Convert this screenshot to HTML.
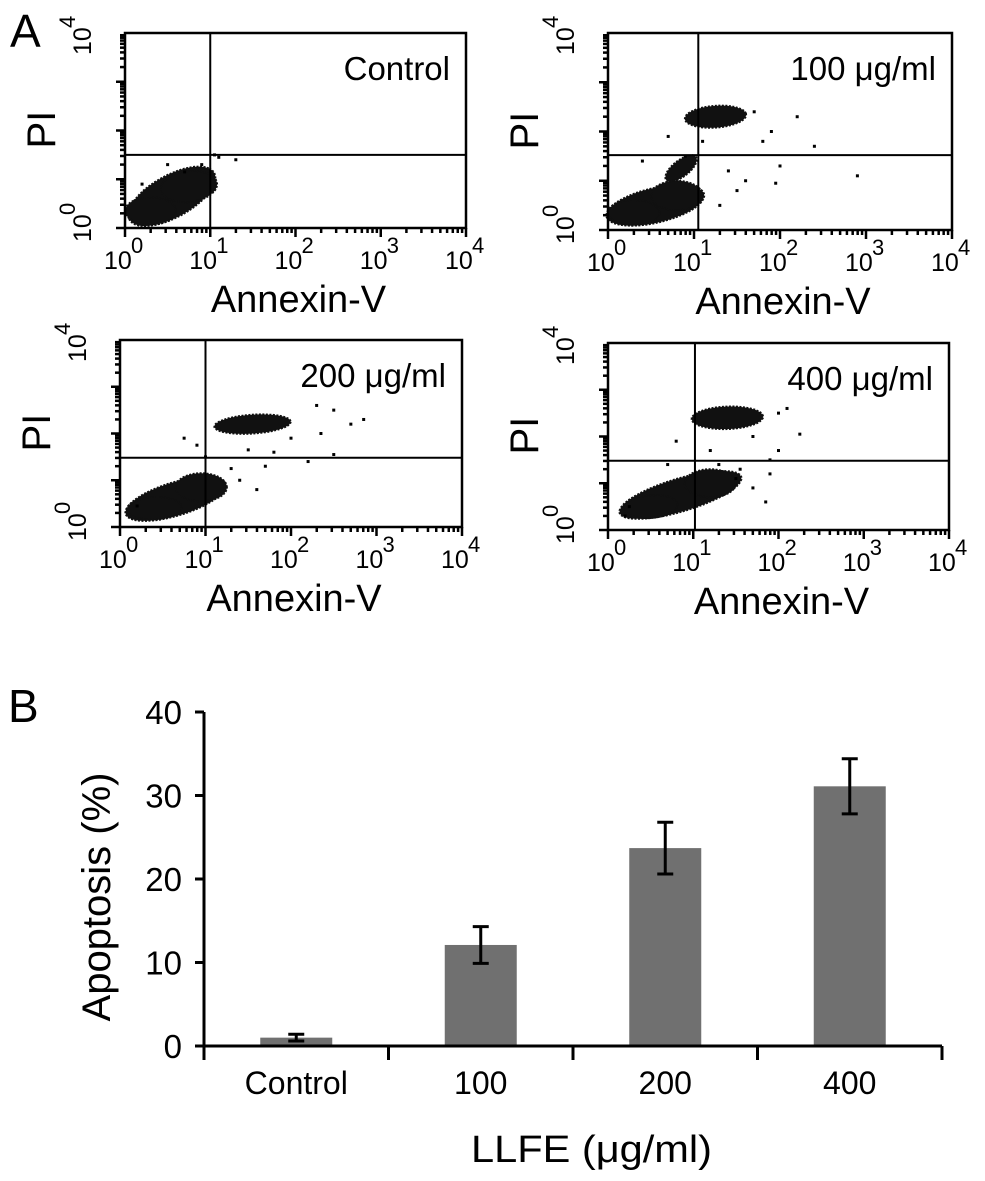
<!DOCTYPE html>
<html><head><meta charset="utf-8"><style>
html,body{margin:0;padding:0;background:#fff;}
svg{display:block;}
text{font-family:"Liberation Sans",sans-serif;fill:#000;}
</style></head><body>
<svg id="fig" width="985" height="1181" viewBox="0 0 985 1181" xmlns="http://www.w3.org/2000/svg">
<text x="10" y="47" font-size="46">A</text>
<text x="8" y="722" font-size="46">B</text>
<g id="flow"></g>
<g id="bars"></g>
</svg>
<script>
// ---------- Flow cytometry data (log10 units) ----------
const panelTitles = ["Control", "100 μg/ml", "200 μg/ml", "400 μg/ml"];
const gateX = [1.0, 1.05, 1.0, 1.02];
const gateY = [1.5, 1.52, 1.48, 1.48];
// clusters: [cx, cy, halfMajor, halfMinor, angleDeg]
const clustersControl = [[0.55,0.65,0.72,0.34,53],[0.3,0.35,0.3,0.28,0],[0.75,0.85,0.35,0.3,40]];
const clusters100 = [[0.55,0.5,0.62,0.33,28],[0.3,0.35,0.3,0.26,0],[1.25,2.3,0.36,0.22,10],[0.85,1.25,0.3,0.12,60],[0.8,0.7,0.3,0.3,0]];
const clusters200 = [[0.65,0.6,0.68,0.32,35],[0.4,0.4,0.32,0.24,10],[1.55,2.2,0.45,0.2,8],[0.95,0.85,0.3,0.3,0]];
const clusters400 = [[0.85,0.75,0.82,0.32,32],[0.5,0.5,0.32,0.24,15],[1.4,2.4,0.42,0.24,5],[1.2,1.0,0.3,0.3,0]];
const dotsControl = [[1.3,1.4],[1.05,1.5],[0.7,1.15],[0.9,1.3],[0.2,0.9],[1.1,1.45],[0.5,1.3]];
const dots100 = [[1.8,1.8],[2.2,2.3],[2.0,1.3],[2.4,1.7],[1.6,1.0],[1.95,0.95],[1.3,0.5],[0.4,1.4],[0.9,1.5],[0.7,1.9],[1.7,2.4],[1.9,2.0],[1.1,1.8],[1.5,0.8],[1.4,1.2],[2.9,1.1]];
const dots200 = [[2.3,2.6],[2.5,2.5],[2.85,2.3],[2.7,2.2],[2.35,2.0],[2.5,1.55],[2.2,1.4],[1.8,1.6],[1.5,1.65],[1.7,1.3],[1.4,1.0],[0.9,1.75],[0.75,1.9],[1.0,1.5],[2.0,1.9],[0.2,0.45],[1.6,0.8],[1.3,1.25]];
const dots400 = [[2.0,2.5],[2.25,2.05],[2.1,2.6],[1.9,1.5],[1.5,1.1],[1.7,0.9],[1.85,0.6],[2.0,1.7],[0.8,1.9],[0.7,1.4],[0.2,0.3],[0.25,0.5],[1.3,1.4],[1.7,2.0],[1.2,1.7],[1.9,1.2],[1.55,1.3]];
const panelClusters = [clustersControl, clusters100, clusters200, clusters400];
const panelDots = [dotsControl, dots100, dots200, dots400];
const boxes = [[125,33,466,228],[608,33,952,230],[120,340,462,527],[608,343,949,530]];
const decadeLabels = ["0","1","2","3","4"];

const NS = "http://www.w3.org/2000/svg";
function mk(tag, attrs, parent){const e=document.createElementNS(NS,tag);for(const k in attrs)e.setAttribute(k,attrs[k]);parent.appendChild(e);return e;}

const flow = document.getElementById('flow');
boxes.forEach((b,pi)=>{
  const [x0,y0,x1,y1]=b;
  const sx=v=>x0+(x1-x0)*v/4, sy=v=>y1-(y1-y0)*v/4;
  const g=mk('g',{},flow);
  
  
  panelClusters[pi].forEach(c=>{
    const [cx,cy,a,bb,ang]=c; const r=ang*Math.PI/180; let pts=[];
    for(let t=0;t<40;t++){const th=t/40*2*Math.PI;const u=a*Math.cos(th),w=bb*Math.sin(th);
      pts.push(sx(cx+u*Math.cos(r)-w*Math.sin(r)).toFixed(1)+','+sy(cy+u*Math.sin(r)+w*Math.cos(r)).toFixed(1));}
    const p=mk('polygon',{points:pts.join(' '),fill:'#111',stroke:'#111','stroke-width':'2','stroke-dasharray':'2 1.5'},g);
    
    
  });
  panelDots[pi].forEach(d=>{
    const r=mk('rect',{x:sx(d[0])-1.5,y:sy(d[1])-1.5,width:3,height:3,fill:'#000'},g);
    
    
  });
  const bx=mk('rect',{x:x0,y:y0,width:x1-x0,height:y1-y0,fill:'none',stroke:'#000','stroke-width':'2.5'},g);
  
  
  const gv=mk('line',{x1:sx(gateX[pi]),x2:sx(gateX[pi]),y1:y0,y2:y1,stroke:'#000','stroke-width':'2'},g);
  
  
  const gh=mk('line',{x1:x0,x2:x1,y1:sy(gateY[pi]),y2:sy(gateY[pi]),stroke:'#000','stroke-width':'2'},g);
  
  
  for(let d=0;d<4;d++)for(let m=1;m<10;m++){const v=d+Math.log10(m);const L=m==1?9:5;
    mk('line',{x1:sx(v),x2:sx(v),y1:y1,y2:y1+L,stroke:'#000','stroke-width':'2.5'},g);
    mk('line',{x1:x0,x2:x0-L,y1:sy(v),y2:sy(v),stroke:'#000','stroke-width':'2.5'},g);}
  mk('line',{x1:sx(4),x2:sx(4),y1:y1,y2:y1+9,stroke:'#000','stroke-width':'2.5'},g);
  decadeLabels.forEach((s,i)=>{
    const t=mk('text',{x:sx(i)-21,y:y1+41,'font-size':'25'},g);
    
    
    t.textContent='10';
    const e=mk('text',{x:sx(i)+6,y:y1+25,'font-size':'22'},g);
    e.textContent=s;
  });
  [[0,'0'],[4,'4']].forEach(([v,s])=>{
    const yy=v==0?y1+14:y0+22;
    const t=mk('text',{transform:`translate(${x0-34},${yy}) rotate(-90)`,'font-size':'25'},g);
    
    
    t.textContent='10';
    const e=mk('text',{transform:`translate(${x0-50},${yy-27}) rotate(-90)`,'font-size':'22'},g);
    e.textContent=s;
  });
  const tt=mk('text',{x:x1-16,y:y0+47,'font-size':'33','text-anchor':'end'},g);
  
  
  tt.textContent=panelTitles[pi];
  const pl=mk('text',{transform:`translate(${x0-70},${(y0+y1)/2+18}) rotate(-90)`,'font-size':'40'},g);
  
  
  pl.textContent='PI';
  const ax=mk('text',{x:(x0+x1)/2+3,y:y1+84,'font-size':'38','text-anchor':'middle'},g);
  
  
  ax.textContent='Annexin-V';
});

// ---------- Bar chart data ----------
const categories = ["Control","100","200","400"];
const values = [1.0, 12.1, 23.7, 31.1];
const errors = [0.4, 2.2, 3.1, 3.3];
const yTicks = [0,10,20,30,40];

const bars=document.getElementById('bars');
const X0=204,X1=942,Y0=1046,Ytop=712,YMAX=40;
const yS=v=>Y0-(Y0-Ytop)*v/YMAX;
const bw=(X1-X0)/categories.length;
const xC=i=>X0+(i+0.5)*bw;
categories.forEach((c,i)=>{
  const r=mk('rect',{x:xC(i)-36,y:yS(values[i]),width:72,height:Y0-yS(values[i]),fill:'#707070'},bars);
  
  
  const hi=yS(values[i]+errors[i]),lo=yS(values[i]-errors[i]);
  const eg=mk('g',{stroke:'#000','stroke-width':'3'},bars);
  
  
  mk('line',{x1:xC(i),x2:xC(i),y1:hi,y2:lo},eg);
  mk('line',{x1:xC(i)-8,x2:xC(i)+8,y1:hi,y2:hi},eg);
  mk('line',{x1:xC(i)-8,x2:xC(i)+8,y1:lo,y2:lo},eg);
  const t=mk('text',{x:xC(i),y:1094,'font-size':'32','text-anchor':'middle'},bars);
  
  
  t.textContent=c;
});
mk('line',{x1:X0,x2:X0,y1:Ytop,y2:Y0,stroke:'#000','stroke-width':'3'},bars);
mk('line',{x1:X0,x2:X1,y1:Y0,y2:Y0,stroke:'#000','stroke-width':'3'},bars);
for(let i=0;i<=categories.length;i++){const x=X0+i*bw;mk('line',{x1:x,x2:x,y1:Y0,y2:Y0+14,stroke:'#000','stroke-width':'3'},bars);}
yTicks.forEach(v=>{
  mk('line',{x1:X0-9,x2:X0,y1:yS(v),y2:yS(v),stroke:'#000','stroke-width':'3'},bars);
  const t=mk('text',{x:182,y:yS(v)+12,'font-size':'33','text-anchor':'end'},bars);
  
  
  t.textContent=v;
});
const yt=mk('text',{transform:'translate(110,897) rotate(-90)','font-size':'40','text-anchor':'middle'},bars);


yt.textContent='Apoptosis (%)';
const xt=mk('text',{x:471,y:1162,'font-size':'38',textLength:'241',lengthAdjust:'spacingAndGlyphs'},bars);


xt.textContent='LLFE (μg/ml)';
</script>
</body></html>
